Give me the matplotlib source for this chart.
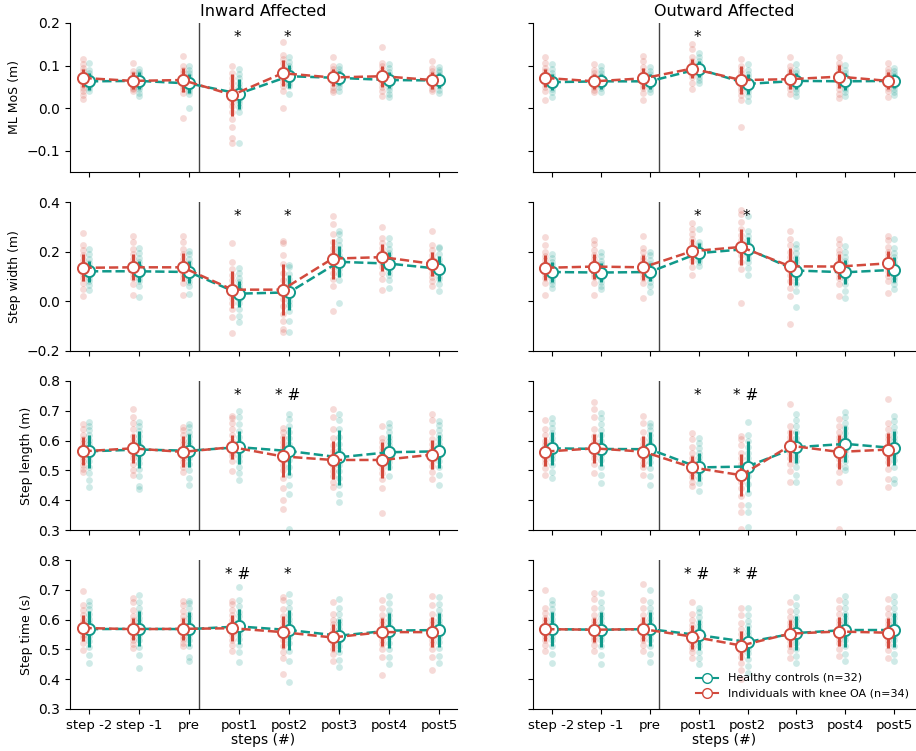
import numpy as np
import matplotlib
matplotlib.use("Agg")
import matplotlib.pyplot as plt
from matplotlib.lines import Line2D

steps = ["step -2", "step -1", "pre", "post1", "post2", "post3", "post4", "post5"]
col_titles = ["Inward Affected", "Outward Affected"]
row_labels = ["ML MoS (m)", "Step width (m)", "Step length (m)", "Step time (s)"]
row_lims = [(-0.15, 0.2), (-0.2, 0.4), (0.3, 0.8), (0.3, 0.8)]
row_ticks = [[-0.1, 0.0, 0.1, 0.2], [-0.2, 0.0, 0.2, 0.4],
             [0.3, 0.4, 0.5, 0.6, 0.7, 0.8], [0.3, 0.4, 0.5, 0.6, 0.7, 0.8]]
hc_label = "Healthy controls (n=32)"
oa_label = "Individuals with knee OA (n=34)"

# significance marks per panel (row, col): {step index: text}
sig = {
    (0, 0): {3: "*", 4: "*"}, (0, 1): {3: "*"},
    (1, 0): {3: "*", 4: "*"}, (1, 1): {3: "*", 4: "*"},
    (2, 0): {3: "*", 4: "* #"}, (2, 1): {3: "*", 4: "* #"},
    (3, 0): {3: "* #", 4: "*"}, (3, 1): {3: "* #", 4: "* #"},
}

# ---- group means / sd ----
mos_in_oa_mean = [0.071, 0.064, 0.066, 0.031, 0.082, 0.072, 0.075, 0.066]
mos_in_oa_sd = [0.022, 0.020, 0.028, 0.049, 0.030, 0.020, 0.025, 0.020]
mos_in_hc_mean = [0.063, 0.064, 0.058, 0.034, 0.075, 0.071, 0.066, 0.065]
mos_in_hc_sd = [0.020, 0.020, 0.022, 0.035, 0.027, 0.016, 0.018, 0.018]
mos_out_oa_mean = [0.071, 0.063, 0.070, 0.093, 0.066, 0.068, 0.074, 0.064]
mos_out_oa_sd = [0.022, 0.018, 0.024, 0.023, 0.033, 0.024, 0.027, 0.020]
mos_out_hc_mean = [0.061, 0.063, 0.063, 0.092, 0.057, 0.064, 0.063, 0.064]
mos_out_hc_sd = [0.019, 0.018, 0.018, 0.018, 0.024, 0.018, 0.020, 0.017]

wid_in_oa_mean = [0.135, 0.137, 0.137, 0.047, 0.047, 0.172, 0.178, 0.151]
wid_in_oa_sd = [0.054, 0.052, 0.057, 0.075, 0.104, 0.081, 0.054, 0.049]
wid_in_hc_mean = [0.121, 0.121, 0.118, 0.031, 0.036, 0.159, 0.152, 0.131]
wid_in_hc_sd = [0.043, 0.043, 0.044, 0.052, 0.071, 0.063, 0.046, 0.050]
wid_out_oa_mean = [0.135, 0.140, 0.137, 0.202, 0.219, 0.141, 0.140, 0.153]
wid_out_oa_sd = [0.051, 0.052, 0.050, 0.051, 0.071, 0.074, 0.050, 0.050]
wid_out_hc_mean = [0.118, 0.116, 0.118, 0.194, 0.211, 0.124, 0.117, 0.127]
wid_out_hc_sd = [0.040, 0.038, 0.038, 0.040, 0.049, 0.057, 0.048, 0.050]

len_in_oa_mean = [0.564, 0.574, 0.562, 0.578, 0.547, 0.535, 0.535, 0.553]
len_in_oa_sd = [0.047, 0.049, 0.052, 0.040, 0.070, 0.065, 0.060, 0.048]
len_in_hc_mean = [0.564, 0.570, 0.566, 0.578, 0.565, 0.544, 0.561, 0.564]
len_in_hc_sd = [0.055, 0.061, 0.056, 0.055, 0.079, 0.092, 0.060, 0.056]
len_out_oa_mean = [0.563, 0.574, 0.563, 0.510, 0.484, 0.583, 0.562, 0.570]
len_out_oa_sd = [0.048, 0.049, 0.052, 0.040, 0.071, 0.054, 0.058, 0.056]
len_out_hc_mean = [0.574, 0.572, 0.571, 0.510, 0.513, 0.578, 0.589, 0.575]
len_out_hc_sd = [0.056, 0.058, 0.057, 0.047, 0.087, 0.053, 0.060, 0.056]

tim_in_oa_mean = [0.572, 0.568, 0.569, 0.571, 0.558, 0.540, 0.558, 0.558]
tim_in_oa_sd = [0.043, 0.038, 0.037, 0.043, 0.054, 0.045, 0.048, 0.050]
tim_in_hc_mean = [0.568, 0.569, 0.568, 0.577, 0.565, 0.546, 0.563, 0.565]
tim_in_hc_sd = [0.061, 0.059, 0.056, 0.060, 0.066, 0.055, 0.058, 0.058]
tim_out_oa_mean = [0.568, 0.566, 0.568, 0.543, 0.513, 0.553, 0.560, 0.556]
tim_out_oa_sd = [0.040, 0.040, 0.040, 0.040, 0.050, 0.045, 0.048, 0.050]
tim_out_hc_mean = [0.568, 0.566, 0.568, 0.548, 0.525, 0.555, 0.565, 0.565]
tim_out_hc_sd = [0.058, 0.058, 0.058, 0.050, 0.055, 0.058, 0.058, 0.058]

# ---- individual participants (approximate) ----
mos_in_oa_pts = [
    [.115, .104, .095, .087, .080, .075, .070, .066, .061, .055, .048, .040, .030, .021],
    [.107, .088, .080, .074, .069, .065, .061, .057, .053, .048, .044, .040],
    [.123, .100, .090, .082, .076, .070, .064, .058, .052, .045, .035, -.022],
    [.100, .082, .070, .058, .048, .040, .032, .024, .015, .005, -.010, -.025, -.045, -.070, -.082],
    [.155, .125, .115, .105, .095, .088, .082, .076, .070, .062, .052, .040, .000],
    [.120, .100, .092, .085, .078, .073, .068, .063, .058, .050, .043, .037],
    [.143, .105, .098, .090, .083, .077, .071, .065, .058, .050, .040, .029],
    [.111, .095, .088, .080, .073, .068, .063, .058, .052, .046, .040],
]
mos_in_hc_pts = [
    [.107, .090, .082, .075, .070, .065, .060, .056, .052, .047, .041],
    [.092, .086, .080, .074, .069, .064, .060, .055, .050, .044, .036, .029],
    [.100, .090, .082, .075, .068, .062, .057, .052, .046, .040, .033, .000],
    [.092, .080, .070, .060, .050, .042, .035, .028, .020, .012, .002, -.010, -.081],
    [.119, .108, .098, .090, .083, .077, .072, .066, .060, .052, .033],
    [.098, .092, .086, .080, .075, .071, .067, .062, .056, .049, .040],
    [.104, .094, .086, .079, .073, .068, .063, .057, .050, .042, .033, .025],
    [.097, .090, .084, .078, .072, .067, .062, .057, .051, .043, .035],
]
mos_out_oa_pts = [
    [.120, .105, .095, .088, .081, .075, .070, .065, .058, .050, .040, .020],
    [.103, .090, .083, .076, .070, .065, .060, .055, .049, .043, .037],
    [.122, .110, .097, .088, .080, .074, .068, .062, .055, .047, .035, .019],
    [.150, .140, .120, .110, .103, .097, .092, .087, .080, .072, .060, .045],
    [.115, .100, .090, .082, .075, .068, .062, .056, .048, .040, .030, .018, -.045],
    [.120, .098, .090, .083, .076, .070, .065, .059, .052, .044, .033],
    [.120, .105, .096, .088, .081, .075, .069, .062, .055, .045, .033, .023],
    [.105, .092, .085, .078, .072, .066, .061, .055, .048, .040, .027],
]
mos_out_hc_pts = [
    [.103, .092, .083, .076, .069, .063, .058, .052, .046, .039, .025],
    [.099, .090, .082, .075, .069, .064, .059, .053, .047, .037],
    [.096, .088, .081, .074, .068, .063, .058, .052, .045, .037],
    [.130, .120, .110, .103, .097, .092, .087, .081, .074, .066, .060],
    [.103, .090, .080, .072, .064, .058, .052, .045, .037, .028, .017],
    [.103, .090, .082, .075, .069, .064, .059, .053, .046, .037, .028],
    [.101, .090, .082, .075, .069, .063, .058, .052, .045, .037, .029],
    [.095, .088, .081, .075, .069, .064, .059, .053, .046, .038, .031],
]

wid_in_oa_pts = [
    [.276, .225, .205, .185, .165, .150, .138, .125, .110, .095, .075, .050, .020],
    [.262, .238, .210, .190, .170, .150, .138, .125, .110, .092, .070, .024],
    [.262, .240, .212, .192, .172, .152, .140, .127, .112, .095, .072, .027],
    [.233, .160, .130, .105, .085, .065, .048, .032, .015, -.005, -.030, -.065, -.128],
    [.242, .235, .185, .150, .115, .085, .060, .035, .010, -.020, -.050, -.080, -.110, -.124],
    [.343, .310, .270, .240, .215, .195, .178, .160, .140, .115, .090, .060, -.040],
    [.300, .255, .235, .215, .198, .183, .170, .155, .138, .115, .090, .047],
    [.285, .225, .205, .188, .172, .158, .145, .130, .115, .098, .080, .060],
]
wid_in_hc_pts = [
    [.209, .190, .170, .155, .140, .128, .118, .108, .095, .082, .065, .047],
    [.215, .195, .175, .158, .142, .130, .120, .108, .095, .080, .062, .017],
    [.204, .190, .172, .156, .140, .128, .118, .106, .093, .078, .060, .030],
    [.135, .115, .095, .078, .062, .048, .035, .022, .008, -.008, -.030, -.060, -.083],
    [.148, .140, .110, .088, .068, .050, .035, .020, .003, -.015, -.040, -.080, -.124],
    [.285, .270, .245, .225, .205, .185, .168, .150, .130, .110, .085, -.007],
    [.256, .232, .212, .195, .178, .162, .150, .138, .122, .105, .085, .054],
    [.218, .214, .190, .172, .156, .142, .130, .118, .104, .088, .068, .043],
]
wid_out_oa_pts = [
    [.258, .225, .200, .182, .166, .150, .137, .124, .110, .094, .072, .027],
    [.248, .232, .205, .188, .170, .155, .142, .128, .112, .096, .075, .027],
    [.262, .215, .198, .180, .165, .150, .138, .125, .110, .094, .072, .013],
    [.316, .290, .272, .252, .235, .218, .205, .192, .178, .162, .140, .108],
    [.366, .350, .320, .290, .268, .245, .225, .205, .185, .160, .130, -.007],
    [.283, .250, .225, .200, .180, .160, .142, .125, .105, .082, .055, .020, -.092],
    [.250, .230, .208, .190, .172, .156, .142, .128, .112, .094, .070, .020],
    [.262, .245, .220, .200, .182, .166, .152, .138, .122, .104, .082, .032],
]
wid_out_hc_pts = [
    [.190, .175, .160, .148, .136, .125, .115, .105, .094, .082, .068, .055],
    [.200, .182, .164, .150, .137, .125, .115, .104, .092, .078, .062, .050],
    [.200, .185, .168, .152, .138, .126, .116, .104, .092, .078, .060, .038],
    [.292, .240, .228, .215, .205, .196, .188, .180, .170, .160, .144],
    [.343, .285, .262, .245, .230, .216, .204, .190, .175, .158, .135, .108],
    [.231, .215, .195, .175, .158, .140, .125, .110, .092, .070, .040, -.024],
    [.222, .200, .180, .162, .146, .132, .118, .104, .088, .068, .040, .013],
    [.253, .215, .195, .178, .160, .145, .130, .115, .100, .085, .068, .051],
]

len_in_oa_pts = [
    [.656, .640, .620, .605, .592, .580, .568, .557, .545, .532, .518, .505, .493],
    [.707, .680, .660, .638, .615, .598, .582, .568, .555, .540, .522, .500, .484],
    [.645, .635, .618, .602, .588, .575, .563, .552, .540, .527, .512, .493],
    [.684, .675, .660, .638, .618, .600, .585, .572, .560, .548, .532, .499],
    [.642, .630, .612, .595, .580, .565, .550, .535, .518, .500, .475, .440, .400, .370],
    [.707, .680, .640, .610, .585, .565, .548, .532, .515, .498, .480, .462, .443],
    [.650, .610, .595, .580, .565, .550, .537, .522, .508, .490, .470, .440, .356],
    [.688, .668, .630, .605, .588, .572, .558, .545, .530, .515, .495, .471],
]
len_in_hc_pts = [
    [.662, .650, .635, .618, .602, .588, .575, .562, .548, .532, .512, .490, .468, .443],
    [.662, .650, .632, .615, .600, .585, .572, .558, .543, .525, .505, .480, .447, .438],
    [.657, .645, .630, .614, .598, .584, .570, .556, .540, .522, .500, .475, .451],
    [.698, .680, .655, .632, .612, .595, .580, .565, .550, .532, .510, .490, .469],
    [.690, .672, .650, .628, .608, .590, .572, .555, .535, .512, .485, .450, .420, .305],
    [.690, .670, .640, .612, .590, .570, .552, .535, .517, .498, .475, .450, .420, .395],
    [.660, .645, .628, .612, .598, .584, .570, .556, .542, .527, .510, .480],
    [.667, .652, .636, .620, .604, .590, .576, .562, .548, .532, .512, .485, .450],
]
len_out_oa_pts = [
    [.670, .640, .618, .600, .586, .574, .562, .550, .538, .524, .508, .484],
    [.731, .705, .680, .640, .615, .598, .583, .570, .556, .541, .522, .491],
    [.682, .660, .630, .606, .590, .576, .564, .552, .540, .526, .510, .484],
    [.626, .605, .580, .560, .543, .528, .515, .503, .490, .477, .462, .448],
    [.617, .605, .585, .560, .540, .520, .500, .482, .462, .440, .415, .385, .360, .305],
    [.724, .650, .630, .612, .598, .585, .572, .558, .542, .522, .497, .460],
    [.673, .650, .630, .612, .597, .582, .568, .553, .537, .518, .495, .460, .305],
    [.740, .660, .640, .620, .604, .590, .576, .562, .546, .528, .505, .470, .443],
]
len_out_hc_pts = [
    [.675, .660, .642, .625, .610, .596, .582, .568, .553, .537, .518, .495, .476],
    [.693, .675, .655, .636, .618, .600, .584, .569, .553, .535, .512, .485, .457],
    [.660, .650, .635, .618, .602, .588, .574, .560, .545, .528, .508, .482, .450],
    [.608, .592, .575, .560, .546, .532, .518, .505, .490, .475, .458, .431],
    [.664, .620, .600, .580, .560, .540, .520, .500, .480, .455, .425, .385, .360, .310],
    [.690, .670, .648, .628, .610, .594, .580, .566, .550, .532, .510, .485, .462],
    [.696, .678, .660, .642, .625, .610, .595, .580, .565, .548, .530, .510, .500],
    [.682, .665, .645, .628, .612, .597, .582, .568, .552, .535, .512, .470, .457],
]

tim_in_oa_pts = [
    [.696, .650, .632, .615, .600, .587, .575, .563, .550, .537, .522, .498],
    [.673, .660, .632, .612, .598, .584, .571, .558, .545, .532, .518, .506],
    [.662, .650, .630, .612, .597, .583, .570, .558, .546, .534, .522, .510],
    [.662, .652, .632, .614, .598, .585, .572, .560, .547, .533, .515, .493],
    [.677, .665, .635, .612, .594, .578, .562, .546, .530, .512, .490, .470, .419],
    [.660, .620, .600, .584, .570, .556, .543, .530, .517, .502, .485, .460],
    [.665, .640, .615, .598, .584, .571, .558, .545, .532, .518, .500, .475, .415],
    [.680, .650, .620, .600, .585, .572, .559, .546, .533, .518, .500, .475, .430],
]
tim_in_hc_pts = [
    [.662, .650, .635, .618, .602, .588, .574, .560, .545, .528, .508, .480, .453],
    [.682, .660, .640, .622, .606, .591, .577, .563, .548, .530, .508, .480, .436],
    [.662, .655, .638, .620, .604, .590, .576, .562, .547, .530, .510, .475, .461],
    [.710, .665, .645, .627, .611, .596, .582, .568, .553, .536, .515, .490, .459],
    [.685, .660, .640, .620, .603, .587, .572, .557, .540, .520, .495, .460, .389],
    [.670, .640, .618, .600, .585, .570, .556, .542, .527, .510, .490, .465, .440],
    [.680, .655, .632, .614, .598, .583, .569, .555, .540, .523, .502, .475, .450],
    [.675, .652, .632, .615, .600, .585, .571, .557, .542, .526, .505, .478, .455],
]
tim_out_oa_pts = [
    [.700, .640, .622, .606, .592, .580, .568, .556, .544, .531, .515, .495],
    [.690, .668, .640, .615, .598, .584, .570, .557, .543, .530, .515, .495],
    [.720, .665, .640, .615, .598, .584, .571, .558, .545, .532, .516, .495],
    [.660, .620, .600, .583, .568, .555, .543, .531, .518, .505, .490, .470],
    [.640, .615, .590, .570, .552, .536, .520, .505, .490, .474, .455, .430, .400],
    [.660, .630, .610, .593, .578, .565, .552, .540, .527, .513, .495, .470],
    [.665, .640, .618, .600, .585, .572, .560, .548, .535, .520, .502, .478],
    [.670, .640, .618, .600, .585, .571, .558, .545, .532, .517, .498, .470],
]
tim_out_hc_pts = [
    [.665, .652, .636, .619, .603, .589, .575, .561, .546, .530, .510, .485, .455],
    [.690, .660, .638, .620, .604, .589, .575, .561, .546, .530, .510, .480, .450],
    [.700, .660, .640, .622, .606, .591, .577, .563, .548, .532, .512, .485, .458],
    [.640, .625, .608, .592, .578, .564, .551, .538, .524, .510, .492, .470, .450],
    [.640, .615, .595, .578, .562, .547, .532, .518, .503, .487, .468, .445, .420],
    [.675, .650, .628, .610, .594, .580, .566, .552, .538, .522, .503, .478, .455],
    [.680, .660, .638, .620, .604, .589, .575, .561, .546, .530, .510, .485, .460],
    [.680, .660, .638, .620, .604, .589, .575, .561, .546, .530, .510, .485, .460],
]

panels = [
    [(mos_in_hc_pts, mos_in_hc_mean, mos_in_hc_sd, mos_in_oa_pts, mos_in_oa_mean, mos_in_oa_sd),
     (mos_out_hc_pts, mos_out_hc_mean, mos_out_hc_sd, mos_out_oa_pts, mos_out_oa_mean, mos_out_oa_sd)],
    [(wid_in_hc_pts, wid_in_hc_mean, wid_in_hc_sd, wid_in_oa_pts, wid_in_oa_mean, wid_in_oa_sd),
     (wid_out_hc_pts, wid_out_hc_mean, wid_out_hc_sd, wid_out_oa_pts, wid_out_oa_mean, wid_out_oa_sd)],
    [(len_in_hc_pts, len_in_hc_mean, len_in_hc_sd, len_in_oa_pts, len_in_oa_mean, len_in_oa_sd),
     (len_out_hc_pts, len_out_hc_mean, len_out_hc_sd, len_out_oa_pts, len_out_oa_mean, len_out_oa_sd)],
    [(tim_in_hc_pts, tim_in_hc_mean, tim_in_hc_sd, tim_in_oa_pts, tim_in_oa_mean, tim_in_oa_sd),
     (tim_out_hc_pts, tim_out_hc_mean, tim_out_hc_sd, tim_out_oa_pts, tim_out_oa_mean, tim_out_oa_sd)],
]

teal = "#10998a"
red = "#d24a3d"
off_oa = -0.13
off_hc = 0.0

fig = plt.figure(figsize=(9.16, 7.51), dpi=100)
lefts = [70 / 916, 533 / 916]
widths = [387 / 916, 382 / 916]
bottoms = [1 - 172 / 751, 1 - 351 / 751, 1 - 530 / 751, 1 - 709 / 751]
height = 149 / 751
x = np.arange(len(steps))

for r in range(4):
    for c in range(2):
        ax = fig.add_axes([lefts[c], bottoms[r], widths[c], height])
        hc_pts, hc_m, hc_sd, oa_pts, oa_m, oa_sd = panels[r][c]

        # individual points
        for i in range(len(steps)):
            ax.scatter(np.full(len(oa_pts[i]), x[i] + off_oa), oa_pts[i], s=24,
                       color=red, alpha=0.2, lw=0, zorder=1)
            ax.scatter(np.full(len(hc_pts[i]), x[i] + off_hc), hc_pts[i], s=24,
                       color=teal, alpha=0.2, lw=0, zorder=1)

        # error bars
        ax.errorbar(x + off_hc, hc_m, yerr=hc_sd, fmt="none", ecolor=teal,
                    elinewidth=2.2, capsize=0, zorder=3)
        ax.errorbar(x + off_oa, oa_m, yerr=oa_sd, fmt="none", ecolor=red,
                    elinewidth=2.2, capsize=0, zorder=3)
        # means
        ax.plot(x + off_hc, hc_m, ls="--", lw=1.8, color=teal, marker="o",
                ms=8, mfc="white", mec=teal, mew=1.4, zorder=4)
        ax.plot(x + off_oa, oa_m, ls="--", lw=1.8, color=red, marker="o",
                ms=8, mfc="white", mec=red, mew=1.4, zorder=5)

        ax.axvline(2.2, color="#444444", lw=1, zorder=0)

        for i, txt in sig[(r, c)].items():
            ax.text(x[i] - 0.03, 0.905, txt, transform=ax.get_xaxis_transform(),
                    ha="center", va="center", fontsize=11)

        ax.set_xlim(-0.38, 7.42 if c else 7.36)
        ax.set_ylim(*row_lims[r])
        ax.set_yticks(row_ticks[r])
        ax.set_xticks(x)
        for s in ["top", "right"]:
            ax.spines[s].set_visible(False)
        ax.tick_params(labelsize=10)
        if c == 0:
            ax.set_ylabel(row_labels[r], fontsize=9)
        else:
            ax.set_yticklabels([])
        if r == 3:
            ax.set_xticklabels(steps, fontsize=9.5)
            ax.set_xlabel("steps (#)", fontsize=10, labelpad=1)
        else:
            ax.set_xticklabels([])
        if r == 0:
            ax.set_title(col_titles[c], fontsize=11.5, pad=5)
        if r == 3 and c == 1:
            handles = [
                Line2D([], [], color=teal, lw=1.5, marker="o", mfc="white", mec=teal, ms=7),
                Line2D([], [], color=red, lw=1.5, marker="o", mfc="white", mec=red, ms=7),
            ]
            ax.legend(handles, [hc_label, oa_label], loc="lower right", frameon=False,
                      fontsize=8, handlelength=2.0, handletextpad=0.9, labelspacing=0.5,
                      bbox_to_anchor=(1.01, 0.0))

fig.savefig("out.png", dpi=100)
